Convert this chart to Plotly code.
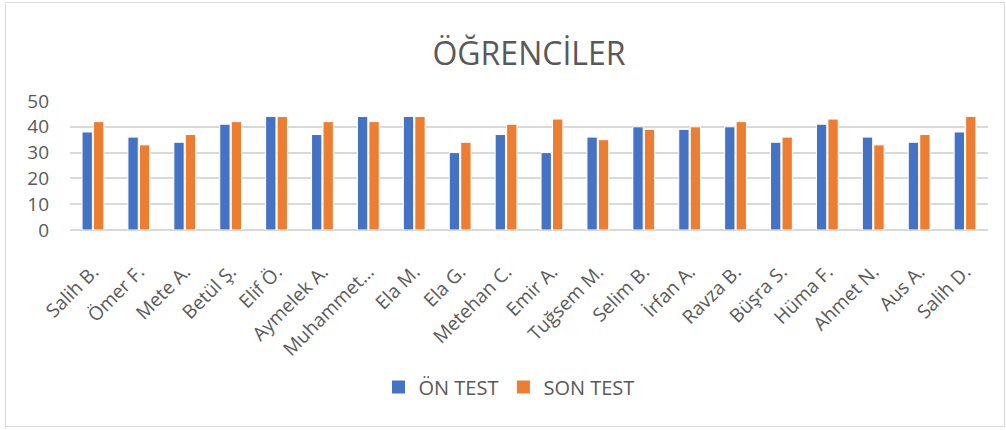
import plotly.graph_objects as go

students = ["Salih B.", "Ömer F.", "Mete A.", "Betül Ş.", "Elif Ö.", "Aymelek A.",
            "Muhammet...", "Ela M.", "Ela G.", "Metehan C.", "Emir A.", "Tuğsem M.",
            "Selim B.", "İrfan A.", "Ravza B.", "Büşra S.", "Hüma F.", "Ahmet N.",
            "Aus A.", "Salih D."]
on_test = [38, 36, 34, 41, 44, 37, 44, 44, 30, 37, 30, 36, 40, 39, 40, 34, 41, 36, 34, 38]
son_test = [42, 33, 37, 42, 44, 42, 42, 44, 34, 41, 43, 35, 39, 40, 42, 36, 43, 33, 37, 44]
y_ticks = [0, 10, 20, 30, 40, 50]
series_names = ["ÖN TEST", "SON TEST"]
series_colors = ["#4472C4", "#ED7D31"]

FONT = "Open Sans"
GREY = "#595959"

fig = go.Figure()
for name, vals, col in zip(series_names, [on_test, son_test], series_colors):
    fig.add_trace(go.Bar(name=name, x=students, y=vals, marker_color=col,
                         marker_line_color="white", marker_line_width=1,
                         showlegend=False, legendgroup=name))
# legend entries with square markers
for name, col in zip(series_names, series_colors):
    fig.add_trace(go.Scatter(name=name, x=[None], y=[None], mode="markers",
                             marker=dict(symbol="square", size=13, color=col),
                             legendgroup=name, showlegend=True))

L, R, T, B = 70, 18, 101, 200
W, H = 1006, 430
pw = W - L - R
ph = H - T - B

def px_x(p):
    return (p - L) / pw

def px_y(p):
    return (H - B - p) / ph

fig.update_layout(
    width=W, height=H,
    margin=dict(l=L, r=R, t=T, b=B),
    paper_bgcolor="white", plot_bgcolor="white",
    barmode="group", bargap=0.5, bargroupgap=0.1,
    font=dict(family=FONT, color=GREY, size=17),
    title=dict(text="ÖĞRENCİLER", x=529 / W, xanchor="center", y=1 - 54 / H, yanchor="middle",
               font=dict(family=FONT, size=32, color=GREY)),
    xaxis=dict(tickangle=-45, tickfont=dict(size=19, color=GREY), showgrid=False,
               showline=False, ticks="", automargin=False, ticklabelstandoff=26),
    yaxis=dict(range=[0, 50], tickvals=y_ticks, tickfont=dict(size=19, color=GREY),
               showgrid=True, gridcolor="#D9D9D9", gridwidth=2, zeroline=True,
               zerolinecolor="#D9D9D9", zerolinewidth=2, ticks="", automargin=False,
               ticklabelstandoff=20),
    legend=dict(orientation="h", x=px_x(509), xanchor="center", y=px_y(387), yanchor="middle",
                font=dict(size=20, color=GREY), itemwidth=30, traceorder="normal",
                tracegroupgap=0),
    shapes=[dict(type="rect", xref="paper", yref="paper",
                 x0=px_x(5.5), x1=px_x(1004.5), y0=px_y(426.5), y1=px_y(2.5),
                 line=dict(color="#D9D9D9", width=1), layer="below")],
)

fig.write_html("out.html", config={"displayModeBar": False},
               post_script="document.body.style.margin='0';document.body.style.padding='0';document.body.style.overflow='hidden';")
